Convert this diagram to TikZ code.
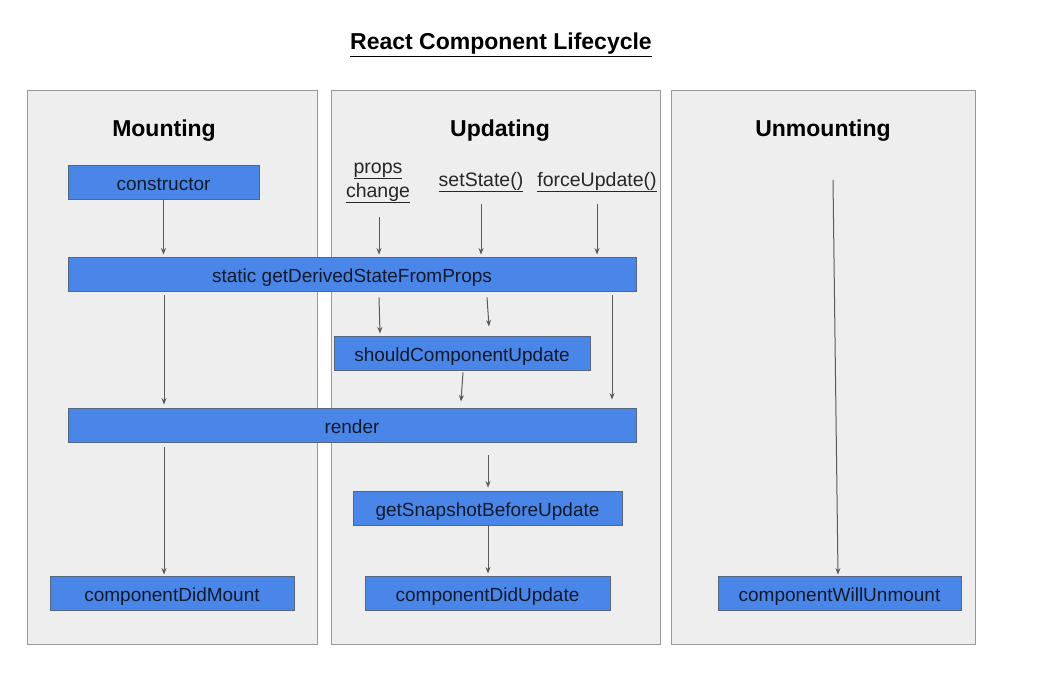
\documentclass[tikz,border=0pt]{standalone}
\usepackage{fontspec}
\setmainfont{Liberation Sans}
\usetikzlibrary{arrows.meta}
\definecolor{boxblue}{HTML}{4A86E8}
\definecolor{boxline}{HTML}{56667F}
\definecolor{boxtext}{HTML}{111A2C}
\definecolor{panelfill}{HTML}{EEEEEE}
\definecolor{panelline}{HTML}{999999}
\definecolor{arrgray}{HTML}{5A5A5A}
\tikzset{
  panel/.style={draw=panelline, fill=panelfill, line width=1pt, inner sep=0pt},
  mbox/.style={draw=boxline, fill=boxblue, line width=0.9pt, inner sep=0pt,
    minimum height=34pt, text height=16pt, text depth=0pt, text=boxtext, font=\fontsize{19}{22}\selectfont},
  header/.style={font=\fontsize{23}{26}\selectfont\bfseries, text=black},
  trig/.style={font=\fontsize{19.5}{24}\selectfont, text=black!85, align=center, inner sep=0pt},
  arr/.style={draw=arrgray, line width=1pt, -{Stealth[length=6.5pt,width=5pt]}},
}
\begin{document}
\begin{tikzpicture}[x=1pt,y=-1pt]
\useasboundingbox (0,0) rectangle (1050,698);
% title
\node[font=\fontsize{23}{26}\selectfont\bfseries] (title) at (501,45) {\underline{React Component Lifecycle}};
% panels
\node[panel, minimum width=290pt, minimum height=553pt] (pm) at (172,367.5) {};
\node[panel, minimum width=329pt, minimum height=553pt] (pu) at (495.5,367.5) {};
\node[panel, minimum width=304pt, minimum height=553pt] (pn) at (823,367.5) {};
% headers
\node[header] (hm) at (164,131) {Mounting};
\node[header] (hu) at (500,131) {Updating};
\node[header] (hn) at (823,131) {Unmounting};
% triggers
\node[trig] (props) at (378,183) {\underline{props}\\\underline{change}};
\node[trig] (setst) at (481,182) {\underline{setState()}};
\node[trig] (force) at (597,182) {\underline{forceUpdate()}};
% boxes
\node[mbox, minimum width=191pt] (cons) at (163.5,182) {constructor};
\node[mbox, minimum width=568pt] (gd) at (352,274) {static getDerivedStateFromProps};
\node[mbox, minimum width=256pt] (scu) at (462,353) {shouldComponentUpdate};
\node[mbox, minimum width=568pt] (rend) at (352,425) {render};
\node[mbox, minimum width=269pt] (gsbu) at (487.5,508) {getSnapshotBeforeUpdate};
\node[mbox, minimum width=244pt] (cdm) at (172,593) {componentDidMount};
\node[mbox, minimum width=245pt] (cdu) at (487.5,593) {componentDidUpdate};
\node[mbox, minimum width=243pt] (cwu) at (839.5,593) {componentWillUnmount};
% free ends
\coordinate (pA) at (379,217);
\coordinate (sA) at (481,204);
\coordinate (fA) at (597,204);
\coordinate (uA) at (833,180);
% mounting arrows
\draw[arr] (cons.south) -- ([yshift=2pt]gd.north -| cons.south);
\draw[arr] ([xshift=-188pt,yshift=-4pt]gd.south) -- ([xshift=-188pt,yshift=3pt]rend.north);
\draw[arr] ([xshift=-188pt,yshift=-5pt]rend.south) -- ([xshift=-8pt,yshift=1pt]cdm.north);
% updating arrows
\draw[arr] (pA) -- ([yshift=2pt]gd.north -| pA);
\draw[arr] (sA) -- ([yshift=2pt]gd.north -| sA);
\draw[arr] (fA) -- ([yshift=2pt]gd.north -| fA);
\draw[arr] ([xshift=27pt,yshift=-6pt]gd.south) -- ([xshift=-82pt,yshift=2pt]scu.north);
\draw[arr] ([xshift=135pt,yshift=-6pt]gd.south) -- ([xshift=27pt,yshift=9pt]scu.north);
\draw[arr] ([xshift=260pt,yshift=-4pt]gd.south) -- ([xshift=260pt,yshift=8pt]rend.north);
\draw[arr] ([xshift=1pt,yshift=-2pt]scu.south) -- ([xshift=-1pt,yshift=6pt]rend.north -| scu.south);
\draw[arr] ([xshift=136pt,yshift=-13pt]rend.south) -- ([xshift=0.5pt,yshift=3pt]gsbu.north);
\draw[arr] ([xshift=0.5pt]gsbu.south) -- ([xshift=0.5pt,yshift=2pt]cdu.north);
% unmounting arrow
\draw[arr] (uA) -- ([xshift=-1.5pt,yshift=1pt]cwu.north);
\end{tikzpicture}
\end{document}
